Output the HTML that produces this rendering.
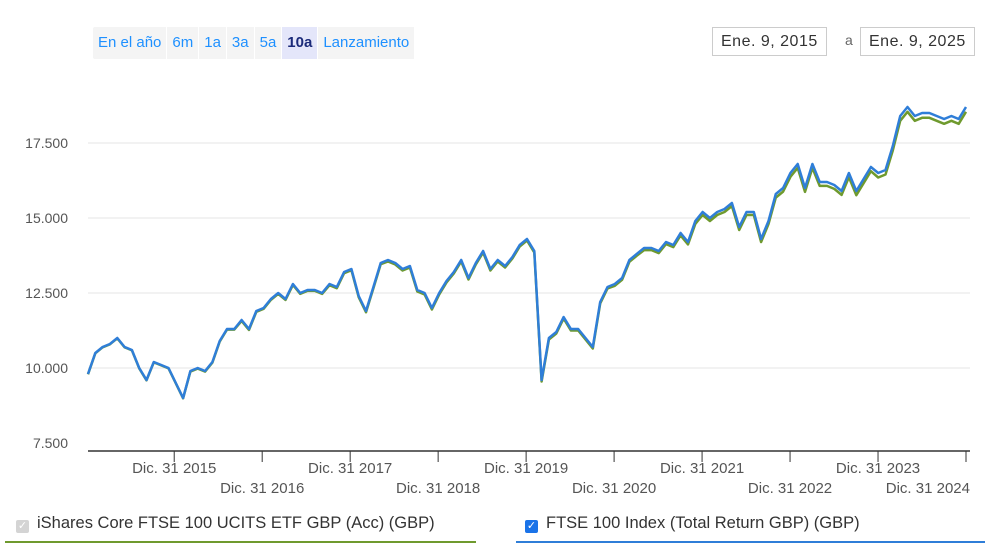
<!DOCTYPE html>
<html><head><meta charset="utf-8">
<style>
body{margin:0;width:988px;height:556px;background:#fff;font-family:"Liberation Sans",sans-serif;overflow:hidden;position:relative}
.btns{position:absolute;left:93px;top:27px;height:32px;background:#f4f4f4;display:flex;border-radius:2px}
.btns span{display:block;padding:0 5px;line-height:32px;font-size:15px;color:#1e90ff;cursor:pointer;border-right:1px solid #fff}
.btns span.act{background:#e4e6fa;color:#1b2a7a;font-weight:bold}
.date{position:absolute;top:27px;height:27px;border:1px solid #ccc;line-height:27px;font-size:16px;color:#333;padding:0 8px;letter-spacing:0.5px}
.leg{position:absolute;top:510px;font-size:16.5px;color:#333;height:31px;line-height:26px}
.cb{display:inline-block;width:13px;height:13px;border-radius:2px;vertical-align:-1px;margin-right:8px;color:#fff;font-size:11px;line-height:13px;text-align:center}
</style></head><body>
<div class="btns">
<span>En el año</span>
<span>6m</span>
<span>1a</span>
<span>3a</span>
<span>5a</span>
<span class="act">10a</span>
<span>Lanzamiento</span>
</div>
<div class="date" style="left:712px">Ene. 9, 2015</div>
<div style="position:absolute;left:845px;top:32px;font-size:14px;color:#666">a</div>
<div class="date" style="left:860px">Ene. 9, 2025</div>

<svg id="chart" width="988" height="500" style="position:absolute;left:0;top:0"></svg>

<div class="leg" style="left:5px;width:471px;border-bottom:2px solid #6f9a2e"><span class="cb" style="background:#d4d4d4;margin-left:11px">✓</span>iShares Core FTSE 100 UCITS ETF GBP (Acc) (GBP)</div>
<div class="leg" style="left:516px;width:469px;border-bottom:2px solid #2f7ed8"><span class="cb" style="background:#1a73e8;margin-left:9px">✓</span>FTSE 100 Index (Total Return GBP) (GBP)</div>

<script>
const yTicks=[7500,10000,12500,15000,17500];
const yTickLabels=["7.500","10.000","12.500","15.000","17.500"];
const xTickYears=[2015,2016,2017,2018,2019,2020,2021,2022,2023,2024];
const xTickLabels=["Dic. 31 2015","Dic. 31 2016","Dic. 31 2017","Dic. 31 2018","Dic. 31 2019","Dic. 31 2020","Dic. 31 2021","Dic. 31 2022","Dic. 31 2023","Dic. 31 2024"];
const indexValues=[9800,10500,10700,10800,11000,10700,10600,10000,9600,10200,10100,10000,
9500,9000,9900,10000,9900,10200,10900,11300,11300,11600,11300,11900,
12000,12300,12500,12300,12800,12500,12600,12600,12500,12800,12700,13200,
13300,12400,11900,12700,13500,13600,13500,13300,13400,12600,12500,12000,
12500,12900,13200,13600,13000,13500,13900,13300,13600,13400,13700,14100,
14300,13900,9600,11000,11200,11700,11300,11300,11000,10700,12200,12700,
12800,13000,13600,13800,14000,14000,13900,14200,14100,14500,14200,14900,
15200,15000,15200,15300,15500,14700,15200,15200,14300,14900,15800,16000,
16500,16800,16000,16800,16200,16200,16100,15900,16500,15900,16300,16700,
16500,16600,17400,18400,18700,18400,18500,18500,18400,18300,18400,18300,18700];
const etfValues=[9790,10490,10690,10790,10990,10690,10590,9990,9590,10190,10090,9990,
9490,8990,9880,9980,9880,10180,10880,11280,11280,11570,11270,11870,
11970,12270,12470,12270,12770,12470,12570,12570,12470,12760,12660,13160,
13260,12360,11860,12660,13460,13550,13450,13250,13350,12550,12450,11950,
12450,12850,13150,13550,12950,13450,13850,13250,13550,13350,13650,14050,
14250,13850,9550,10950,11150,11650,11250,11250,10950,10650,12150,12650,
12740,12940,13540,13740,13930,13930,13830,14130,14030,14420,14120,14800,
15100,14900,15100,15200,15400,14600,15100,15100,14200,14800,15680,15880,
16370,16670,15870,16670,16070,16070,15970,15770,16360,15760,16160,16560,
16350,16450,17250,18240,18540,18240,18340,18340,18240,18140,18240,18140,18540];
const startYear=2015.02;
const svg=document.getElementById('chart');
const NS='http://www.w3.org/2000/svg';
const X0=88,X1=966,T0=2015.02,T1=2025.0;
const xs=t=>X0+(t-T0)/(T1-T0)*(X1-X0);
const ys=v=>368-(v-10000)/2500*75;
function mk(tag,attrs){const e=document.createElementNS(NS,tag);for(const k in attrs)e.setAttribute(k,attrs[k]);svg.appendChild(e);return e;}
yTicks.forEach((v,i)=>{
 if(v>7500){const g=mk('line',{x1:88,x2:970,y1:ys(v),y2:ys(v),stroke:'#e6e6e6','stroke-width':1});
 
 }
 const t=mk('text',{x:68,y:ys(v)+5,'text-anchor':'end','font-size':'14','fill':'#555','font-family':'Liberation Sans, sans-serif'});
 t.textContent=yTickLabels[i];
 
 
});
const ax=mk('line',{x1:88,x2:970,y1:451,y2:451,stroke:'#333','stroke-width':1.5});


xTickYears.forEach((yr,i)=>{
 const x=xs(yr+1);
 const tk=mk('line',{x1:x,x2:x,y1:451,y2:462,stroke:'#333','stroke-width':1});
 
 
 const t=mk('text',{x:x,y:i%2?493:473,'text-anchor':i==9?'end':'middle','font-size':'15','fill':'#555','font-family':'Liberation Sans, sans-serif'});
 if(i==9)t.setAttribute('x',x+4);
 t.textContent=xTickLabels[i];
 
 
});
function line(vals,color,name){
 const pts=vals.map((v,i)=>xs(startYear+i*(T1-T0)/(vals.length-1)).toFixed(1)+','+ys(v).toFixed(1)).join(' ');
 const p=mk('polyline',{points:pts,fill:'none',stroke:color,'stroke-width':2.5,'stroke-linejoin':'round'});
 
 
}
line(etfValues,'#6f9a2e','etf-line');
line(indexValues,'#2f7ed8','index-line');
</script>
</body></html>
